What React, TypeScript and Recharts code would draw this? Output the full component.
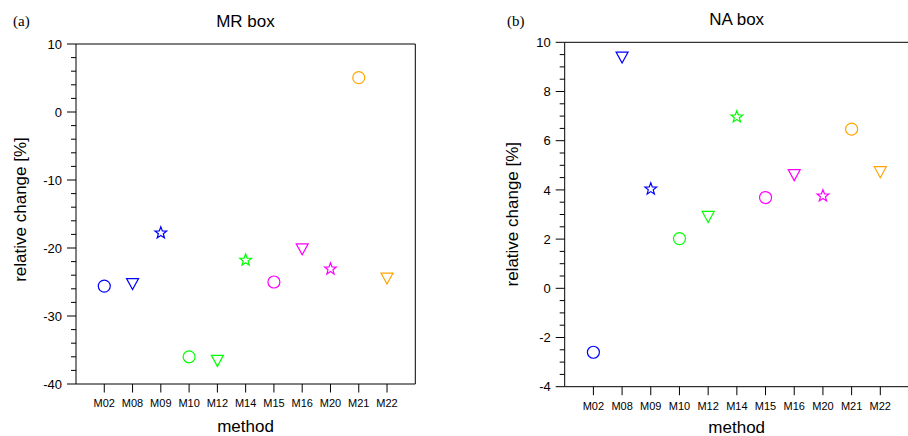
import React from 'react';
import { ScatterChart, Scatter, XAxis, YAxis } from 'recharts';

const methods = ['M02', 'M08', 'M09', 'M10', 'M12', 'M14', 'M15', 'M16', 'M20', 'M21', 'M22'];
const mrChange = [-25.6, -25.3, -17.7, -36.0, -36.6, -21.7, -25.0, -20.2, -23.0, 5.05, -24.5];
const naChange = [-2.6, 9.38, 4.06, 2.02, 2.9, 6.99, 3.69, 4.6, 3.78, 6.47, 4.72];
const markerTypes = ['circle', 'triangle', 'star', 'circle', 'triangle', 'star', 'circle', 'triangle', 'star', 'circle', 'triangle'];
const markerColors = ['#0000ff', '#0000ff', '#0000ff', '#00ff00', '#00ff00', '#00ff00', '#ff00ff', '#ff00ff', '#ff00ff', '#ffa500', '#ffa500'];

const mrDomain = [-40, 10];
const mrMinorStep = 2;
const mrMajorStep = 10;
const naDomain = [-4, 10];
const naMinorStep = 0.5;
const naMajorStep = 2;
const categoryTicks = methods.map((_, i) => i);

const FONT = '"Liberation Sans", Arial, Helvetica, sans-serif';

function buildTicks(min: number, max: number, step: number) {
  const out: number[] = [];
  const n = Math.round((max - min) / step);
  for (let i = 0; i <= n; i++) out.push(Math.round((min + i * step) * 1000) / 1000);
  return out;
}

function makeYTick(side: 'left' | 'right', majorStep: number, labels: boolean) {
  return (props: any) => {
    const { x, y, payload } = props;
    const v = payload.value;
    const major = Math.abs(v / majorStep - Math.round(v / majorStep)) < 1e-6;
    const len = major ? 9 : 5;
    const dir = side === 'left' ? -1 : 1;
    return (
      <g>
        <line x1={x} y1={y} x2={x + dir * len} y2={y} stroke="#000" strokeWidth={1} />
        {labels && major && (
          <text x={x - 14} y={y} dy="0.36em" textAnchor="end" fontSize={13} fontFamily={FONT} fill="#000">
            {String(v)}
          </text>
        )}
      </g>
    );
  };
}

function makeXTick(side: 'top' | 'bottom', labels: boolean) {
  return (props: any) => {
    const { x, y, payload } = props;
    const dir = side === 'top' ? -1 : 1;
    return (
      <g>
        <line x1={x} y1={y} x2={x} y2={y + dir * 8.5} stroke="#000" strokeWidth={1} />
        {labels && (
          <text x={x} y={y + 23.3} textAnchor="middle" fontSize={11} fontFamily={FONT} fill="#000">
            {methods[payload.value]}
          </text>
        )}
      </g>
    );
  };
}

const MarkerShape = (props: any) => {
  const { cx, cy, payload } = props;
  const color = payload.color;
  const sw = 1.2;
  if (payload.marker === 'circle') {
    return <circle cx={cx} cy={cy} r={6} fill="none" stroke={color} strokeWidth={sw} />;
  }
  if (payload.marker === 'triangle') {
    const pts = `${cx - 6},${cy - 5.5} ${cx + 6},${cy - 5.5} ${cx},${cy + 5.5}`;
    return <polygon points={pts} fill="none" stroke={color} strokeWidth={sw} />;
  }
  const R = 6.2;
  const r = 2.6;
  const oy = cy + 0.095 * R;
  const pts: string[] = [];
  for (let k = 0; k < 10; k++) {
    const ang = -Math.PI / 2 + (k * Math.PI) / 5;
    const rad = k % 2 === 0 ? R : r;
    pts.push(`${cx + rad * Math.cos(ang)},${oy + rad * Math.sin(ang)}`);
  }
  return <polygon points={pts.join(' ')} fill="none" stroke={color} strokeWidth={sw} />;
};

function Panel(props: {
  values: number[];
  domain: number[];
  minorStep: number;
  majorStep: number;
  width: number;
  margin: { top: number; right: number; bottom: number; left: number };
}) {
  const { values, domain, minorStep, majorStep, width, margin } = props;
  const data = methods.map((m, i) => ({ x: i, y: values[i], name: m, marker: markerTypes[i], color: markerColors[i] }));
  const yTicks = buildTicks(domain[0], domain[1], minorStep);
  const axisLine = { stroke: '#000', strokeWidth: 1 };
  const m = { top: margin.top - 1, right: margin.right - 1, bottom: margin.bottom - 1, left: margin.left - 1 };
  return (
    <ScatterChart width={width} height={436} margin={m}>
      <XAxis
        dataKey="x"
        type="number"
        domain={[-1, 11]}
        ticks={categoryTicks}
        interval={0}
        height={1}
        tickSize={0}
        tickMargin={0}
        tickLine={false}
        axisLine={axisLine}
        tick={makeXTick('bottom', true)}
      />
      <XAxis
        xAxisId="t"
        orientation="top"
        type="number"
        domain={[-1, 11]}
        ticks={categoryTicks}
        interval={0}
        height={1}
        tickSize={0}
        tickMargin={0}
        tickLine={false}
        axisLine={axisLine}
        tick={makeXTick('top', false)}
      />
      <YAxis
        dataKey="y"
        type="number"
        domain={domain}
        ticks={yTicks}
        interval={0}
        width={1}
        tickSize={0}
        tickMargin={0}
        tickLine={false}
        axisLine={axisLine}
        tick={makeYTick('left', majorStep, true)}
      />
      <YAxis
        yAxisId="r"
        orientation="right"
        type="number"
        domain={domain}
        ticks={yTicks}
        interval={0}
        width={1}
        tickSize={0}
        tickMargin={0}
        tickLine={false}
        axisLine={axisLine}
        tick={makeYTick('right', majorStep, false)}
      />
      <Scatter data={data} shape={MarkerShape} isAnimationActive={false} />
    </ScatterChart>
  );
}

export default function App() {
  return (
    <div style={{ position: 'absolute', left: 0, top: 0, width: 908, height: 436, background: '#fff', overflow: 'hidden' }}>
      <div style={{ position: 'absolute', left: 0, top: 0, width: 454, height: 436 }}>
        <Panel
          values={mrChange}
          domain={mrDomain}
          minorStep={mrMinorStep}
          majorStep={mrMajorStep}
          width={454}
          margin={{ top: 44, right: 38.7, bottom: 52, left: 76 }}
        />
      </div>
      <div style={{ position: 'absolute', left: 454, top: 0, width: 454, height: 436, overflow: 'hidden' }}>
        <Panel
          values={naChange}
          domain={naDomain}
          minorStep={naMinorStep}
          majorStep={naMajorStep}
          width={460}
          margin={{ top: 42.3, right: 5, bottom: 49.3, left: 110.7 }}
        />
      </div>
      <svg width={908} height={436} style={{ position: 'absolute', left: 0, top: 0, pointerEvents: 'none' }}>
        <text x={13} y={26} fontSize={15} fontFamily='"Liberation Serif", "Times New Roman", serif' fill="#000">(a)</text>
        <text x={507} y={26} fontSize={15} fontFamily='"Liberation Serif", "Times New Roman", serif' fill="#000">(b)</text>
        <text x={245.5} y={26.7} textAnchor="middle" fontSize={17} fontFamily={FONT} fill="#000">MR box</text>
        <text x={736.7} y={25} textAnchor="middle" fontSize={17} fontFamily={FONT} fill="#000">NA box</text>
        <text x={245.5} y={431.5} textAnchor="middle" fontSize={17} fontFamily={FONT} fill="#000">method</text>
        <text x={736.7} y={432.5} textAnchor="middle" fontSize={17} fontFamily={FONT} fill="#000">method</text>
        <text x={26} y={209.5} textAnchor="middle" fontSize={17} fontFamily={FONT} fill="#000" transform="rotate(-90 26 209.5)">relative change [%]</text>
        <text x={517.7} y={214.2} textAnchor="middle" fontSize={17} fontFamily={FONT} fill="#000" transform="rotate(-90 517.7 214.2)">relative change [%]</text>
      </svg>
    </div>
  );
}
